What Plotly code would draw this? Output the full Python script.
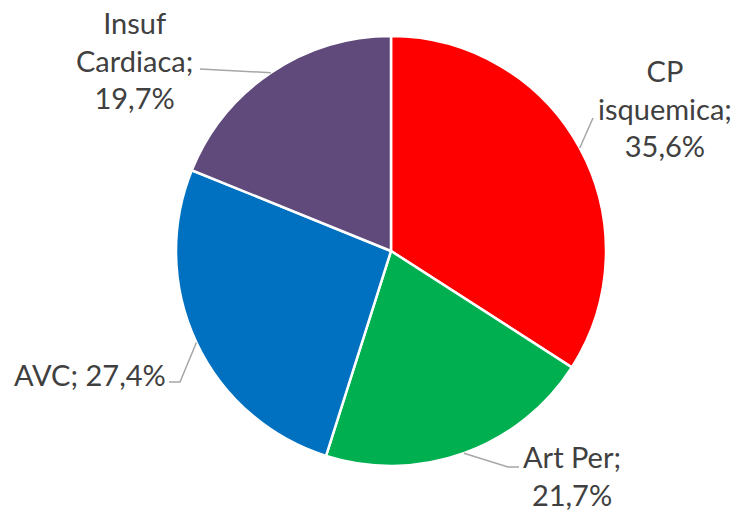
import math
import plotly.graph_objects as go

# Chart data
categories = ["CP isquemica", "Art Per", "AVC", "Insuf Cardiaca"]
label_lines = [["CP", "isquemica;"], ["Art Per;"], ["AVC;"], ["Insuf", "Cardiaca;"]]
values = [35.6, 21.7, 27.4, 19.7]
colors = ["#FF0000", "#00B050", "#0070C0", "#604A7B"]

W, H = 740, 512
CX, CY, R = 391, 251, 215  # pie centre and radius in pixels

# Label placement (pixels): text centre, and leader-line bend points toward the text
label_style = [
    {"text_xy": (665, 108), "path": [(593, 118)]},
    {"text_xy": (572, 475), "path": [(508, 467), (519, 467)]},
    {"text_xy": (90, 374), "path": [(180, 382), (169, 382)]},
    {"text_xy": (134, 60), "path": [(200, 69)]},
]

def px(x, y):
    return x / W, 1 - y / H

fig = go.Figure(go.Pie(
    labels=categories,
    values=values,
    sort=False,
    direction="clockwise",
    rotation=0,
    textinfo="none",
    hoverinfo="label+value",
    marker=dict(colors=colors, line=dict(color="white", width=2.5)),
    domain=dict(x=[(CX - R) / W, (CX + R) / W], y=[(H - CY - R) / H, (H - CY + R) / H]),
    showlegend=False,
))

total = sum(values)
annotations = []
shapes = []
cum = 0.0
for lines, v, st in zip(label_lines, values, label_style):
    mid = (cum + v / 2) / total * 2 * math.pi
    cum += v
    ex = CX + R * math.sin(mid)
    ey = CY - R * math.cos(mid)
    pts = [(ex, ey)] + st["path"]
    d = "M " + " L ".join(f"{px(x, y)[0]:.5f},{px(x, y)[1]:.5f}" for x, y in pts)
    shapes.append(dict(type="path", path=d, xref="paper", yref="paper",
                       line=dict(color="#A6A6A6", width=1.5)))
    pct = f"{v:.1f}%".replace(".", ",")
    if len(lines) == 1:
        text = f"{lines[0]} {pct}" if lines[0] == "AVC;" else f"{lines[0]}<br>{pct}"
    else:
        text = "<br>".join(lines + [pct])
    tx, ty = px(*st["text_xy"])
    annotations.append(dict(x=tx, y=ty, xref="paper", yref="paper", text=text,
                            showarrow=False, xanchor="center", yanchor="middle",
                            align="center", font=dict(size=29, color="#404040",
                                                      family="Lato")))

fig.update_layout(
    width=W, height=H,
    margin=dict(l=0, r=0, t=0, b=0),
    paper_bgcolor="white",
    plot_bgcolor="white",
    annotations=annotations,
    shapes=shapes,
)

fig.write_html("out.html")
